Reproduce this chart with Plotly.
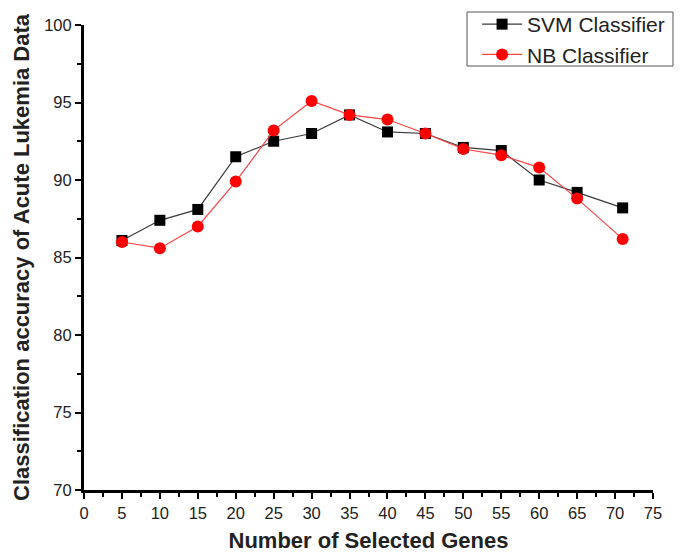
import plotly.graph_objects as go

genes = [5, 10, 15, 20, 25, 30, 35, 40, 45, 50, 55, 60, 65, 71]
svm_acc = [86.1, 87.4, 88.1, 91.5, 92.5, 93.0, 94.2, 93.1, 93.0, 92.1, 91.9, 90.0, 89.2, 88.2]
nb_acc = [86.0, 85.6, 87.0, 89.9, 93.2, 95.1, 94.2, 93.9, 93.0, 92.0, 91.6, 90.8, 88.8, 86.2]
x_ticks = list(range(0, 80, 5))
y_ticks = list(range(70, 105, 5))

FONT = "Liberation Sans, Arial, sans-serif"

fig = go.Figure()
fig.add_trace(go.Scatter(
    x=genes, y=svm_acc, mode="lines+markers", name="SVM Classifier",
    line=dict(color="#3a3a3a", width=1.2),
    marker=dict(symbol="square", size=11, color="black"),
))
fig.add_trace(go.Scatter(
    x=genes, y=nb_acc, mode="lines+markers", name="NB Classifier",
    line=dict(color="#ff4444", width=1.2),
    marker=dict(symbol="circle", size=12, color="red"),
))

axis_common = dict(
    showline=True, linecolor="black", linewidth=3,
    ticks="outside", ticklen=6, tickwidth=2, tickcolor="black",
    showgrid=False, zeroline=False, mirror=False,
    tickfont=dict(family=FONT, size=16.5, color="#222222"),
    minor=dict(ticks="outside", ticklen=4, tickwidth=2, tickcolor="black"),
)

fig.update_xaxes(
    range=[0, 75], tickvals=x_ticks,
    title=dict(text="<b>Number of Selected Genes</b>", font=dict(family=FONT, size=22, color="#222222"), standoff=14),
    minor_dtick=2.5,
    **axis_common,
)
fig.update_yaxes(
    range=[70, 100], tickvals=y_ticks,
    title=dict(text="<b>Classification accuracy of Acute Lukemia Data</b>", font=dict(family=FONT, size=22, color="#222222"), standoff=9),
    minor_dtick=2.5,
    **axis_common,
)

# legend frame (as in the reference, the box overhangs the plot area)
fig.add_shape(
    type="rect", xref="paper", yref="paper",
    x0=(467 - 84) / 569, x1=(673 - 84) / 569,
    y0=1 - (66 - 25) / 465, y1=1 + (25 - 12) / 465,
    line=dict(color="#555555", width=1), fillcolor="white", layer="above",
)

fig.update_layout(
    width=686, height=553,
    margin=dict(l=84, r=33, t=25, b=63, autoexpand=False),
    plot_bgcolor="white", paper_bgcolor="white",
    showlegend=True,
    legend=dict(
        x=1.03, xanchor="right", y=1 - 4 / 553, yanchor="top",
        xref="paper", yref="container",
        bgcolor="rgba(0,0,0,0)", borderwidth=0,
        font=dict(family=FONT, size=21, color="#222222"),
        tracegroupgap=0, itemwidth=40,
    ),
)

fig.write_html(
    "out.html",
    config={"displayModeBar": False},
    post_script="document.body.style.margin='0';document.body.style.overflow='hidden';",
)
